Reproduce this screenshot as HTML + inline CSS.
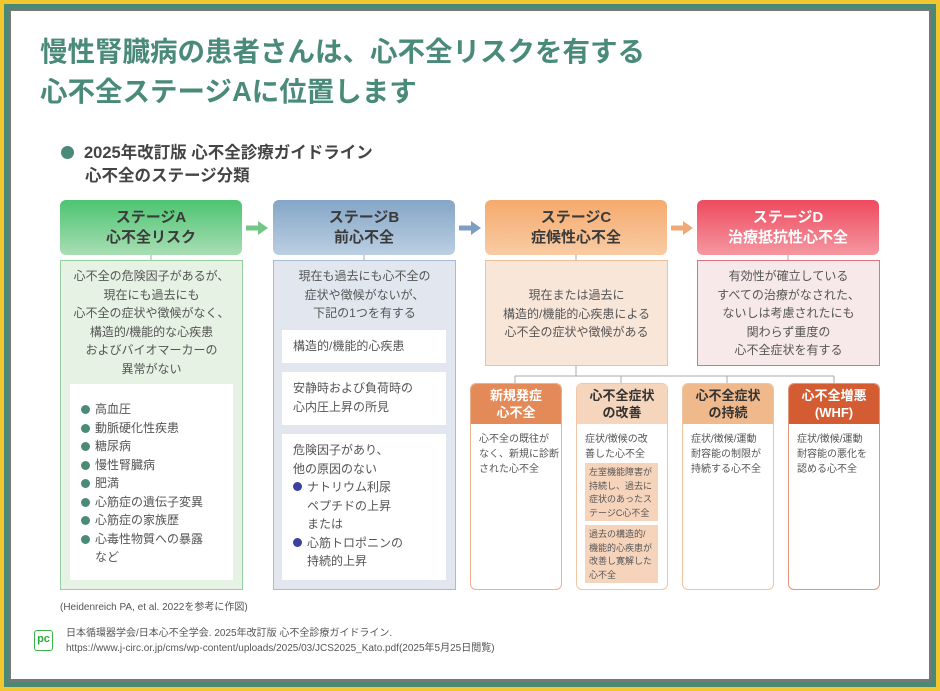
<!DOCTYPE html>
<html><head><meta charset="utf-8"><style>
*{margin:0;padding:0;box-sizing:border-box}
body{width:940px;height:691px;background:#f1c62e;position:relative;overflow:hidden;font-family:"Liberation Sans","Noto Sans CJK JP",sans-serif;color:#444}
.a{position:absolute}
.hd{position:absolute;border-radius:6px;text-align:center;font-weight:bold;font-size:15px;line-height:20px;padding-top:8px;color:#3a3a3a}
.bd{position:absolute;font-size:12px;line-height:18.5px;text-align:center;color:#555}
.wb{position:absolute;background:#fff;font-size:12px;line-height:18.5px;color:#555;padding-left:11px}
.sh{position:absolute;border-radius:6px;border:1.5px solid;overflow:hidden}
.sh .h{height:40px;text-align:center;font-weight:bold;font-size:13px;line-height:17px;padding-top:3px}
.sh .t{font-size:10px;line-height:15px;padding:8px 0 0 8px;color:#555;white-space:nowrap}
.dot{display:inline-block;width:10px;height:10px;border-radius:50%;background:#4a8a78;margin-right:5px;vertical-align:-1px}
.bl{display:inline-block;width:9px;height:9px;border-radius:50%;background:#3b3fa0;margin-right:5px}
</style></head><body>
<div class="a" style="left:4px;top:4px;width:932px;height:683px;background:#4b8876"></div>
<div class="a" style="left:9px;top:9px;width:922px;height:673px;background:#7b7575"></div>
<div class="a" style="left:11px;top:11px;width:918px;height:668px;background:#fff"></div>

<div class="a" style="left:40px;top:32px;font-size:27.5px;font-weight:bold;color:#4a8a78;line-height:40px;white-space:nowrap">慢性腎臓病の患者さんは、心不全リスクを有する<br>心不全ステージAに位置します</div>

<div class="a" style="left:61px;top:142px;font-size:16.5px;font-weight:bold;color:#444;line-height:23px;white-space:nowrap"><span class="dot" style="width:13px;height:13px;margin-right:10px"></span>2025年改訂版 心不全診療ガイドライン<br><span style="padding-left:24px">心不全のステージ分類</span></div>

<div class="hd" style="left:60px;top:200px;width:182px;height:55px;background:linear-gradient(#4dc471,#a8deb4)">ステージA<br>心不全リスク</div>
<div class="hd" style="left:273px;top:200px;width:182px;height:55px;background:linear-gradient(#84a6c7,#bccfe2)">ステージB<br>前心不全</div>
<div class="hd" style="left:485px;top:200px;width:182px;height:55px;background:linear-gradient(#f5aa6c,#f9cba3)">ステージC<br>症候性心不全</div>
<div class="hd" style="left:697px;top:200px;width:182px;height:55px;background:linear-gradient(#ee4a5f,#f597a0);color:#fff">ステージD<br>治療抵抗性心不全</div>

<svg class="a" style="left:0;top:0" width="940" height="691">
<g stroke-width="5">
<line x1="246" y1="228" x2="260" y2="228" stroke="#72c787"/><polygon points="258,221 268,228 258,235" fill="#72c787"/>
<line x1="459" y1="228" x2="473" y2="228" stroke="#7f9fc2"/><polygon points="471,221 481,228 471,235" fill="#7f9fc2"/>
<line x1="671" y1="228" x2="685" y2="228" stroke="#f0a875"/><polygon points="683,221 693,228 683,235" fill="#f0a875"/>
</g>
<g stroke="#aaa" stroke-width="1" fill="none">
<line x1="151" y1="255" x2="151" y2="261"/><line x1="364" y1="255" x2="364" y2="261"/>
<line x1="576" y1="255" x2="576" y2="261"/><line x1="788" y1="255" x2="788" y2="261"/>
<line x1="576" y1="365" x2="576" y2="376"/><line x1="515" y1="376" x2="834" y2="376"/>
<line x1="515" y1="376" x2="515" y2="384"/><line x1="621" y1="376" x2="621" y2="384"/>
<line x1="727" y1="376" x2="727" y2="384"/><line x1="834" y1="376" x2="834" y2="384"/>
</g>
</svg>

<div class="bd" style="left:60px;top:260px;width:183px;height:330px;background:#e6f2e4;border:1px solid #96d0a0;padding-top:6px">心不全の危険因子があるが、<br>現在にも過去にも<br>心不全の症状や徴候がなく、<br>構造的/機能的な心疾患<br>およびバイオマーカーの<br>異常がない</div>
<div class="wb" style="left:70px;top:384px;width:163px;height:196px;padding-top:16px"><span class="dot" style="width:9px;height:9px"></span>高血圧<br><span class="dot" style="width:9px;height:9px"></span>動脈硬化性疾患<br><span class="dot" style="width:9px;height:9px"></span>糖尿病<br><span class="dot" style="width:9px;height:9px"></span>慢性腎臓病<br><span class="dot" style="width:9px;height:9px"></span>肥満<br><span class="dot" style="width:9px;height:9px"></span>心筋症の遺伝子変異<br><span class="dot" style="width:9px;height:9px"></span>心筋症の家族歴<br><span class="dot" style="width:9px;height:9px"></span>心毒性物質への暴露<br><span style="padding-left:14px">など</span></div>

<div class="bd" style="left:273px;top:260px;width:183px;height:330px;background:#e2e7ef;border:1px solid #a9bcd6;padding-top:6px">現在も過去にも心不全の<br>症状や徴候がないが、<br>下記の1つを有する</div>
<div class="wb" style="left:282px;top:330px;width:164px;height:33px;padding-top:7px">構造的/機能的心疾患</div>
<div class="wb" style="left:282px;top:372px;width:164px;height:53px;padding-top:7px">安静時および負荷時の<br>心内圧上昇の所見</div>
<div class="wb" style="left:282px;top:434px;width:164px;height:146px;padding-top:7px">危険因子があり、<br>他の原因のない<br><span class="bl"></span>ナトリウム利尿<br><span style="padding-left:14px">ペプチドの上昇</span><br><span style="padding-left:14px">または</span><br><span class="bl"></span>心筋トロポニンの<br><span style="padding-left:14px">持続的上昇</span></div>

<div class="bd" style="left:485px;top:260px;width:183px;height:106px;background:#f8e6d9;border:1px solid #f0c09a;padding-top:25px">現在または過去に<br>構造的/機能的心疾患による<br>心不全の症状や徴候がある</div>
<div class="bd" style="left:697px;top:260px;width:183px;height:106px;background:#f7e8ea;border:1px solid #dc7282;padding-top:6px">有効性が確立している<br>すべての治療がなされた、<br>ないしは考慮されたにも<br>関わらず重度の<br>心不全症状を有する</div>

<div class="sh" style="left:470px;top:383px;width:92px;height:207px;border-color:#eeb08e"><div class="h" style="background:#e38a58;color:#fff">新規発症<br>心不全</div><div class="t">心不全の既往が<br>なく、新規に診断<br>された心不全</div></div>
<div class="sh" style="left:576px;top:383px;width:92px;height:207px;border-color:#f2c6a4"><div class="h" style="background:#f5d6bc;color:#333">心不全症状<br>の改善</div><div class="t">症状/徴候の改<br>善した心不全</div>
<div class="a" style="left:8px;top:79px;width:73px;height:58px;background:#f6d4bc;font-size:9px;line-height:13.5px;padding:3px 0 0 4px;color:#555;white-space:nowrap">左室機能障害が<br>持続し、過去に<br>症状のあったス<br>テージC心不全</div>
<div class="a" style="left:8px;top:141px;width:73px;height:58px;background:#f6d4bc;font-size:9px;line-height:13.5px;padding:3px 0 0 4px;color:#555;white-space:nowrap">過去の構造的/<br>機能的心疾患が<br>改善し寛解した<br>心不全</div></div>
<div class="sh" style="left:682px;top:383px;width:92px;height:207px;border-color:#f0c4a2"><div class="h" style="background:#efb98b;color:#333">心不全症状<br>の持続</div><div class="t">症状/徴候/運動<br>耐容能の制限が<br>持続する心不全</div></div>
<div class="sh" style="left:788px;top:383px;width:92px;height:207px;border-color:#e3977a"><div class="h" style="background:#d45c32;color:#fff">心不全増悪<br>(WHF)</div><div class="t">症状/徴候/運動<br>耐容能の悪化を<br>認める心不全</div></div>

<div class="a" style="left:60px;top:598px;font-size:10px;color:#555">(Heidenreich PA, et al. 2022を参考に作図)</div>

<div class="a" style="left:34px;top:630px;width:19px;height:21px;border:1.5px solid #3cb44b;border-radius:3px;color:#2aa83c;font-weight:bold;font-size:11px;line-height:17px;text-align:center">pc</div>
<div class="a" style="left:66px;top:626px;font-size:10px;line-height:15px;color:#555">日本循環器学会/日本心不全学会. 2025年改訂版 心不全診療ガイドライン.<br>https://www.j-circ.or.jp/cms/wp-content/uploads/2025/03/JCS2025_Kato.pdf(2025年5月25日閲覧)</div>
</body></html>
